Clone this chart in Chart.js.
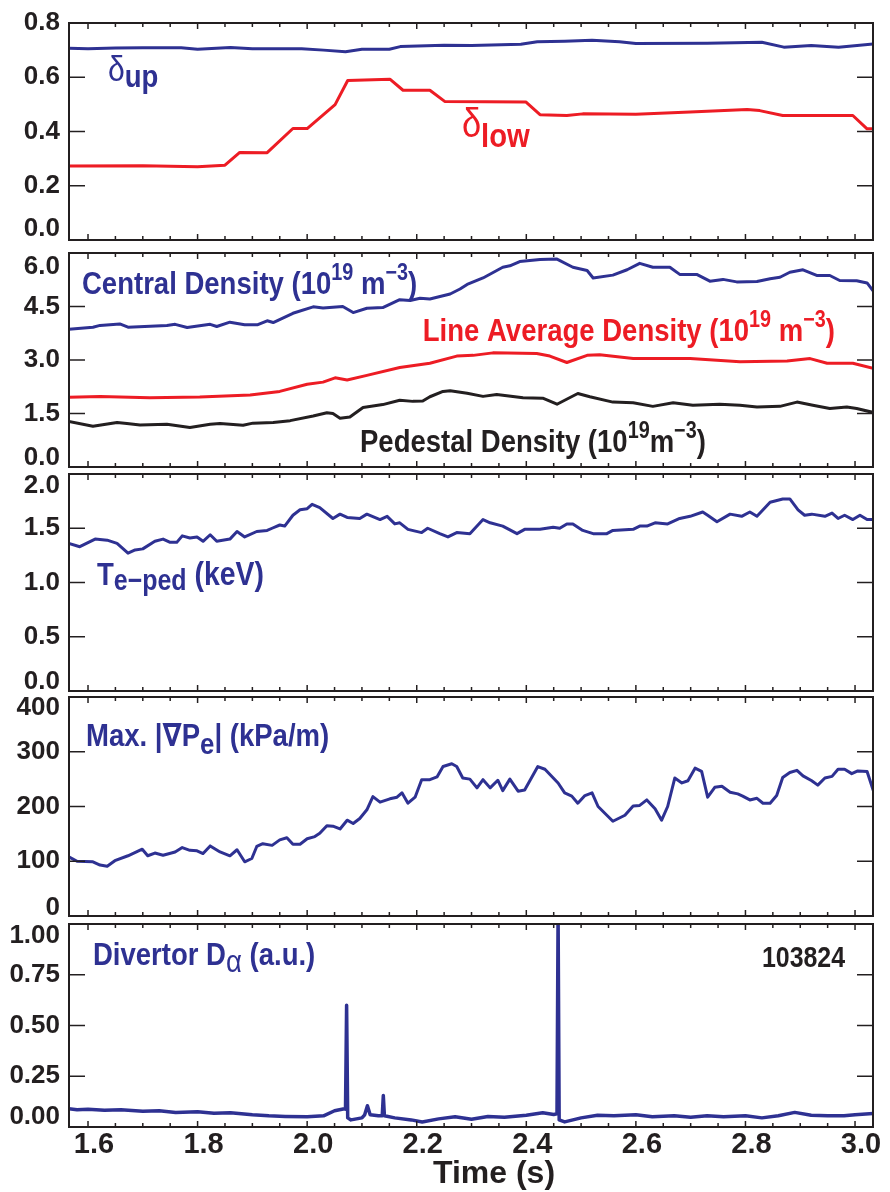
<!DOCTYPE html>
<html>
<head>
<meta charset="utf-8">
<script src="https://cdn.jsdelivr.net/npm/chart.js@4.4.1/dist/chart.umd.min.js"></script>
<style>
html,body{margin:0;padding:0;background:#fff;}
#wrap{position:relative;width:890px;height:1192px;overflow:hidden;background:#fff;}
#wrap canvas{position:absolute;left:0;}
</style>
</head>
<body>
<div id="wrap"></div>
<script>
// ---------------- DATA ----------------
const timeTicks = [1.6, 1.8, 2.0, 2.2, 2.4, 2.6, 2.8, 3.0];
const deltaTicks = [0, 0.2, 0.4, 0.6, 0.8];
const densityTicks = [0, 1.5, 3.0, 4.5, 6.0];
const teTicks = [0, 0.5, 1.0, 1.5, 2.0];
const gradTicks = [0, 100, 200, 300, 400];
const dalphaTicks = [0, 0.25, 0.5, 0.75, 1.0];

// Panel 1: triangularity
const deltaUpTime = [1.565,1.60,1.65,1.70,1.77,1.80,1.86,1.90,1.99,2.03,2.07,2.10,2.15,2.17,2.25,2.30,2.39,2.42,2.47,2.52,2.57,2.60,2.73,2.83,2.87,2.92,2.97,3.033];
const deltaUp     = [0.707,0.705,0.708,0.709,0.709,0.703,0.710,0.705,0.705,0.700,0.694,0.703,0.703,0.713,0.718,0.717,0.722,0.731,0.733,0.736,0.731,0.724,0.725,0.729,0.711,0.717,0.711,0.723];
const deltaLowTime = [1.565,1.70,1.80,1.850,1.877,1.927,1.974,2.000,2.051,2.074,2.151,2.175,2.224,2.251,2.399,2.425,2.474,2.503,2.600,2.699,2.803,2.826,2.868,2.996,3.022,3.033];
const deltaLow     = [0.273,0.274,0.270,0.276,0.323,0.322,0.411,0.411,0.499,0.588,0.593,0.552,0.552,0.511,0.509,0.462,0.459,0.465,0.464,0.472,0.481,0.477,0.459,0.459,0.410,0.410];

// Panel 2: densities (10^19 m^-3)
const centralTime = [1.565,1.609,1.622,1.658,1.673,1.744,1.759,1.781,1.823,1.835,1.859,1.886,1.910,1.927,1.938,1.974,2.011,2.029,2.065,2.084,2.109,2.138,2.169,2.188,2.206,2.224,2.261,2.279,2.292,2.321,2.357,2.370,2.388,2.425,2.456,2.485,2.511,2.522,2.558,2.584,2.607,2.631,2.662,2.680,2.711,2.735,2.759,2.784,2.821,2.845,2.863,2.881,2.905,2.930,2.954,2.972,3.003,3.022,3.033];
const centralDensity = [3.86,3.92,3.97,4.01,3.92,3.97,4.00,3.91,4.00,3.94,4.06,3.99,3.99,4.10,4.05,4.31,4.49,4.46,4.50,4.33,4.45,4.47,4.69,4.67,4.73,4.71,4.85,4.99,5.12,5.30,5.60,5.64,5.76,5.82,5.83,5.60,5.51,5.30,5.38,5.53,5.71,5.60,5.60,5.40,5.40,5.21,5.26,5.19,5.20,5.28,5.32,5.46,5.53,5.37,5.37,5.23,5.22,5.16,4.94];
const lineAvgTime = [1.565,1.622,1.713,1.804,1.896,1.950,2.000,2.029,2.051,2.073,2.109,2.169,2.224,2.273,2.303,2.339,2.419,2.443,2.474,2.511,2.534,2.595,2.699,2.790,2.876,2.918,2.949,2.996,3.033];
const lineAvgDensity = [1.955,1.98,1.94,1.96,2.02,2.12,2.32,2.38,2.50,2.44,2.57,2.79,2.91,3.11,3.13,3.20,3.18,3.11,2.93,3.13,3.15,3.04,3.04,2.95,2.97,3.04,2.91,2.91,2.77];
const pedTime = [1.565,1.609,1.653,1.671,1.695,1.744,1.786,1.823,1.841,1.883,1.901,1.938,1.969,2.011,2.036,2.047,2.060,2.078,2.102,2.138,2.169,2.193,2.211,2.224,2.248,2.261,2.292,2.321,2.346,2.394,2.430,2.456,2.494,2.516,2.558,2.595,2.631,2.668,2.704,2.753,2.790,2.821,2.863,2.894,2.923,2.954,2.985,3.003,3.033];
const pedDensity = [1.28,1.14,1.25,1.22,1.18,1.20,1.11,1.20,1.22,1.17,1.23,1.25,1.30,1.43,1.52,1.50,1.37,1.40,1.67,1.75,1.87,1.84,1.85,1.97,2.12,2.14,2.07,1.98,2.03,1.94,1.93,1.76,2.06,1.97,1.82,1.80,1.70,1.80,1.73,1.76,1.73,1.68,1.70,1.82,1.73,1.64,1.68,1.64,1.53];

// Panel 3: pedestal electron temperature (keV)
const teTime = [1.565,1.585,1.613,1.635,1.653,1.673,1.686,1.700,1.722,1.737,1.750,1.762,1.772,1.786,1.799,1.810,1.823,1.835,1.859,1.872,1.886,1.908,1.927,1.936,1.950,1.959,1.974,1.987,2.000,2.009,2.023,2.047,2.060,2.073,2.096,2.109,2.133,2.146,2.160,2.169,2.184,2.209,2.220,2.242,2.257,2.273,2.297,2.321,2.334,2.357,2.383,2.397,2.425,2.449,2.461,2.474,2.485,2.503,2.522,2.547,2.558,2.595,2.607,2.620,2.635,2.658,2.680,2.699,2.722,2.731,2.748,2.772,2.793,2.808,2.821,2.845,2.868,2.881,2.896,2.908,2.921,2.945,2.958,2.969,2.981,2.996,3.009,3.022,3.033];
const tePed = [1.36,1.33,1.40,1.39,1.36,1.27,1.30,1.31,1.38,1.40,1.37,1.37,1.43,1.41,1.42,1.38,1.44,1.38,1.40,1.47,1.42,1.47,1.48,1.50,1.53,1.52,1.62,1.67,1.68,1.72,1.69,1.59,1.63,1.60,1.59,1.63,1.58,1.61,1.54,1.55,1.49,1.46,1.50,1.45,1.42,1.46,1.45,1.58,1.55,1.52,1.45,1.49,1.49,1.51,1.50,1.54,1.54,1.48,1.45,1.45,1.48,1.49,1.52,1.52,1.55,1.54,1.59,1.61,1.65,1.62,1.56,1.63,1.61,1.65,1.61,1.74,1.77,1.77,1.67,1.62,1.63,1.61,1.64,1.59,1.62,1.58,1.62,1.58,1.58];

// Panel 4: max |grad Pe| (kPa/m)
const gradTime = [1.565,1.580,1.609,1.622,1.635,1.649,1.673,1.699,1.709,1.722,1.737,1.759,1.772,1.786,1.799,1.810,1.823,1.841,1.859,1.872,1.886,1.899,1.908,1.919,1.936,1.950,1.963,1.974,1.987,2.000,2.014,2.023,2.036,2.047,2.060,2.073,2.084,2.096,2.109,2.120,2.133,2.151,2.164,2.173,2.184,2.197,2.209,2.224,2.237,2.248,2.264,2.273,2.284,2.297,2.310,2.321,2.334,2.348,2.357,2.370,2.385,2.397,2.421,2.434,2.458,2.470,2.483,2.494,2.507,2.520,2.531,2.558,2.580,2.595,2.607,2.620,2.635,2.647,2.658,2.671,2.684,2.695,2.708,2.720,2.731,2.744,2.757,2.772,2.786,2.795,2.808,2.821,2.832,2.845,2.857,2.868,2.881,2.894,2.905,2.921,2.932,2.945,2.958,2.969,2.981,2.994,3.005,3.022,3.033];
const gradPe = [108,100,99,93,91,101,110,122,110,115,111,117,125,120,119,114,128,117,110,121,99,105,127,132,129,139,143,131,131,141,145,151,165,164,159,175,169,178,194,218,208,214,217,225,206,217,249,249,254,273,278,273,252,250,234,249,234,248,229,250,228,230,273,268,243,225,219,206,220,225,200,173,184,201,202,212,196,175,200,252,243,247,270,264,217,235,237,226,223,219,212,215,206,206,220,253,262,266,256,247,239,252,255,268,268,260,265,264,230];

// Panel 5: divertor D-alpha (a.u.)
const dalphaTime = [1.565,1.58,1.60,1.63,1.66,1.70,1.73,1.76,1.80,1.83,1.86,1.90,1.93,1.96,2.00,2.03,2.05,2.068,2.070,2.072,2.074,2.08,2.10,2.105,2.110,2.115,2.13,2.137,2.139,2.141,2.16,2.19,2.21,2.24,2.27,2.30,2.33,2.36,2.40,2.43,2.45,2.456,2.458,2.460,2.47,2.50,2.53,2.56,2.60,2.63,2.67,2.70,2.73,2.76,2.80,2.83,2.86,2.89,2.92,2.95,2.98,3.00,3.033];
const dalpha = [0.090,0.085,0.088,0.082,0.085,0.078,0.080,0.072,0.075,0.068,0.070,0.060,0.055,0.052,0.050,0.055,0.080,0.090,0.088,0.600,0.045,0.035,0.045,0.060,0.105,0.060,0.055,0.055,0.155,0.055,0.045,0.035,0.025,0.040,0.050,0.038,0.052,0.048,0.058,0.070,0.062,0.065,1.050,0.035,0.025,0.045,0.058,0.055,0.060,0.050,0.055,0.048,0.055,0.050,0.055,0.045,0.055,0.072,0.058,0.055,0.055,0.060,0.066];

// ---------------- STYLE ----------------
const BLUE = '#2E3192', RED = '#ED1C24', BLACK = '#231F20';
const X_MIN = 1.5653, X_MAX = 3.0328;
const PAD = 30;
const ANN_FONT = '"Liberation Sans", Arial, "DejaVu Sans", sans-serif';
const SQUEEZE = 0.86;

function fontAvailable(name) {
  const c = document.createElement('canvas').getContext('2d');
  const s = '0123456789 .Density abc';
  c.font = 'bold 40px monospace';
  const a = c.measureText(s).width;
  c.font = 'bold 40px "' + name + '", monospace';
  return Math.abs(c.measureText(s).width - a) > 0.5;
}
const NARROW = fontAvailable('Liberation Sans Narrow');
const TICK_FAMILY = NARROW ? '"Liberation Sans Narrow", "Liberation Sans", Arial, sans-serif' : '"Liberation Sans", Arial, sans-serif';
const TICK_SIZE = NARROW ? 29 : 26;

const pts = (xs, ys) => xs.map((x, i) => ({x, y: ys[i]}));

const framePlugin = {
  id: 'frame',
  afterDatasetsDraw(chart) {
    const {ctx, chartArea: a, scales: {x, y}} = chart;
    ctx.save();
    ctx.strokeStyle = BLACK;
    ctx.lineWidth = 1.5;
    const line = (x1, y1, x2, y2) => { ctx.beginPath(); ctx.moveTo(x1, y1); ctx.lineTo(x2, y2); ctx.stroke(); };
    const yt = y.ticks || [];
    yt.forEach((t, i) => {
      if (i === 0 || i === yt.length - 1) return;
      const py = y.getPixelForValue(t.value);
      line(a.left, py, a.left + 16, py);
      line(a.right, py, a.right - 16, py);
    });
    for (let i = 0; i < timeTicks.length; i++) {
      const v = timeTicks[i];
      const px = x.getPixelForValue(v);
      line(px, a.top, px, a.top + 6);
      line(px, a.bottom, px, a.bottom - 6);
      if (i < timeTicks.length - 1) {
        const step = (timeTicks[i + 1] - v) / 4;
        for (let k = 1; k < 4; k++) {
          const pm = x.getPixelForValue(v + k * step);
          line(pm, a.top, pm, a.top + 4);
          line(pm, a.bottom, pm, a.bottom - 4);
        }
      }
    }
    ctx.lineWidth = 2;
    ctx.strokeRect(a.left, a.top, a.right - a.left, a.bottom - a.top);
    ctx.restore();
  }
};

const annotPlugin = {
  id: 'annot',
  afterDraw(chart, args, opts) {
    const {ctx, scales: {x, y}} = chart;
    const items = (opts && opts.items) || [];
    items.forEach(it => {
      const sq = it.sq == null ? SQUEEZE : it.sq;
      ctx.save();
      ctx.translate(x.getPixelForValue(it.t), y.getPixelForValue(it.v));
      ctx.scale(sq, 1);
      ctx.fillStyle = it.color;
      ctx.textBaseline = 'alphabetic';
      ctx.textAlign = 'left';
      let cx = 0;
      it.runs.forEach(r => {
        ctx.font = (r.w || 'bold') + ' ' + r.s + 'px ' + ANN_FONT;
        ctx.fillText(r.text, cx, r.dy || 0);
        cx += ctx.measureText(r.text).width;
      });
      ctx.restore();
    });
  }
};

function makePanel(top, bottom, ycfg, datasets, items, isLast) {
  isLast = !!isLast;
  const wrap = document.getElementById('wrap');
  const cv = document.createElement('canvas');
  const ctop = top - PAD;
  const h = isLast ? 1192 - ctop : (bottom - top) + 2 * PAD;
  cv.width = 890; cv.height = h;
  cv.style.top = ctop + 'px';
  cv.style.width = '890px'; cv.style.height = h + 'px';
  wrap.appendChild(cv);
  const yTicks = ycfg.ticks;
  const nY = yTicks.length;
  new Chart(cv, {
    type: 'line',
    data: {datasets},
    options: {
      responsive: false, animation: false, devicePixelRatio: 1, events: [],
      layout: {padding: {top: PAD, bottom: isLast ? 0 : PAD, left: 0, right: 17}},
      plugins: {legend: {display: false}, tooltip: {enabled: false}, annot: {items}},
      elements: {point: {radius: 0}, line: {borderWidth: 3, tension: 0, borderJoinStyle: 'round', borderCapStyle: 'round'}},
      scales: {
        x: {
          type: 'linear', min: X_MIN, max: X_MAX, display: isLast, position: 'bottom',
          grid: {display: false, drawTicks: false}, border: {display: false},
          afterBuildTicks: s => { s.ticks = timeTicks.map(v => ({value: v})); },
          ticks: {autoSkip: false, maxRotation: 0, labelOffset: 6, padding: 1, color: BLACK,
                  font: {family: '"Liberation Sans", Arial, sans-serif', size: 29, weight: 'bold'},
                  callback: v => Number(v).toFixed(1)},
          afterFit: s => { s.height = isLast ? 65 : 0; }
        },
        y: {
          type: 'linear', min: yTicks[0], max: yTicks[nY - 1], position: 'left',
          grid: {display: false, drawTicks: false}, border: {display: false},
          afterBuildTicks: s => { s.ticks = yTicks.map(v => ({value: v})); },
          ticks: {
            autoSkip: false, padding: 9, color: BLACK,
            font: c => {
              const i = c.index;
              let lh = Math.round(TICK_SIZE * 1.2);
              if (i === nY - 1 && ycfg.topShift) lh = ycfg.topShift * 2;
              if (i === 0 && ycfg.botShift) lh = ycfg.botShift * 2;
              return {family: TICK_FAMILY, size: TICK_SIZE, weight: 'bold', lineHeight: lh + 'px'};
            },
            callback: (v, i) => {
              const s = Number(v).toFixed(ycfg.dec);
              if (i === nY - 1 && ycfg.topShift) return ['', s];
              if (i === 0 && ycfg.botShift) return [s, ''];
              return s;
            }
          },
          afterFit: s => { s.width = 69; }
        }
      }
    },
    plugins: [framePlugin, annotPlugin]
  });
}

// Panel 1
makePanel(23, 241, {ticks: deltaTicks, dec: 1, topShift: 0, botShift: 11}, [
  {data: pts(deltaUpTime, deltaUp), borderColor: BLUE},
  {data: pts(deltaLowTime, deltaLow), borderColor: RED}
], [
  {t: 1.6365, v: 0.587, color: BLUE, runs: [{text: 'δ', s: 35, w: 'normal'}, {text: 'up', s: 32, dy: 6}]},
  {t: 2.2825, v: 0.378, color: RED, runs: [{text: 'δ', s: 40, w: 'normal'}, {text: 'low', s: 34, dy: 10}]}
]);

// Panel 2
makePanel(246, 467, {ticks: densityTicks, dec: 1, topShift: 14, botShift: 9}, [
  {data: pts(centralTime, centralDensity), borderColor: BLUE},
  {data: pts(lineAvgTime, lineAvgDensity), borderColor: RED},
  {data: pts(pedTime, pedDensity), borderColor: BLACK}
], [
  {t: 1.589, v: 4.86, color: BLUE, runs: [{text: 'Central Density (10', s: 32}, {text: '19', s: 23, dy: -14}, {text: ' m', s: 32}, {text: '\u22123', s: 23, dy: -14}, {text: ')', s: 32}]},
  {t: 2.211, v: 3.53, color: RED, runs: [{text: 'Line Average Density (10', s: 32}, {text: '19', s: 23, dy: -14}, {text: ' m', s: 32}, {text: '\u22123', s: 23, dy: -14}, {text: ')', s: 32}]},
  {t: 2.0964, v: 0.41, color: BLACK, runs: [{text: 'Pedestal Density (10', s: 32}, {text: '19', s: 23, dy: -14}, {text: 'm', s: 32}, {text: '\u22123', s: 23, dy: -14}, {text: ')', s: 32}]}
]);

// Panel 3
makePanel(471, 691, {ticks: teTicks, dec: 1, topShift: 12, botShift: 9}, [
  {data: pts(teTime, tePed), borderColor: BLUE}
], [
  {t: 1.6164, v: 0.98, color: BLUE, runs: [{text: 'T', s: 32}, {text: 'e\u2212ped', s: 29, dy: 5}, {text: ' (keV)', s: 33}]}
]);

// Panel 4
makePanel(696, 916, {ticks: gradTicks, dec: 0, topShift: 11, botShift: 8}, [
  {data: pts(gradTime, gradPe), borderColor: BLUE}
], [
  {t: 1.5964, v: 311, color: BLUE, runs: [{text: 'Max. |\u2207P', s: 32}, {text: 'e', s: 30, dy: 8}, {text: '| (kPa/m)', s: 32}]}
]);

// Panel 5
makePanel(921, 1127, {ticks: dalphaTicks, dec: 2, topShift: 12, botShift: 10}, [
  {data: pts(dalphaTime, dalpha), borderColor: BLUE, borderWidth: 3.5}
], [
  {t: 1.609, v: 0.796, color: BLUE, runs: [{text: 'Divertor D', s: 32}, {text: '\u03B1', s: 32, w: 'normal', dy: 7}, {text: ' (a.u.)', s: 32}]},
  {t: 2.83, v: 0.786, color: BLACK, runs: [{text: '103824', s: 29}]},
  {t: 2.2296, v: -0.277, color: BLACK, sq: 1, runs: [{text: 'Time (s)', s: 32}]}
], true);
</script>
</body>
</html>
